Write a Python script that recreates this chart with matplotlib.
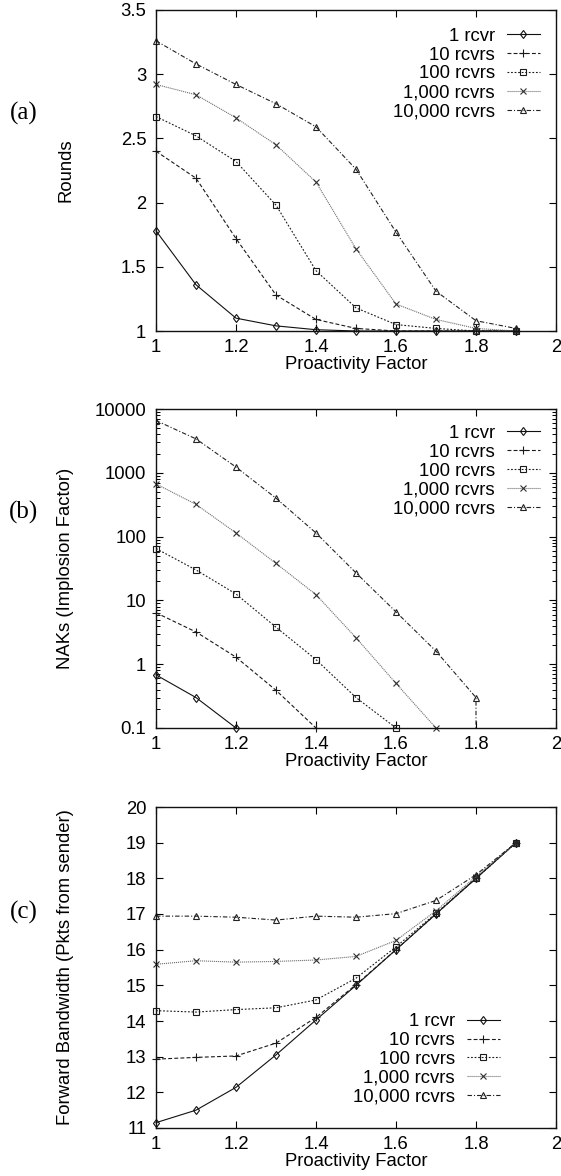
import numpy as np
import matplotlib
matplotlib.use("Agg")
import matplotlib.pyplot as plt
from matplotlib.ticker import FixedLocator, FormatStrFormatter, LogLocator, NullFormatter

# ---------------- data ----------------
proactivity = [1.0, 1.1, 1.2, 1.3, 1.4, 1.5, 1.6, 1.7, 1.8, 1.9]
series_labels = ["1 rcvr", "10 rcvrs", "100 rcvrs", "1,000 rcvrs", "10,000 rcvrs"]

rounds_1 = [1.78, 1.36, 1.10, 1.04, 1.01, 1.00, 1.00, 1.00, 1.00, 1.00]
rounds_10 = [2.40, 2.19, 1.72, 1.28, 1.09, 1.02, 1.00, 1.00, 1.00, 1.00]
rounds_100 = [2.67, 2.52, 2.32, 1.98, 1.47, 1.18, 1.05, 1.02, 1.00, 1.00]
rounds_1000 = [2.92, 2.84, 2.66, 2.45, 2.16, 1.64, 1.21, 1.09, 1.02, 1.00]
rounds_10000 = [3.26, 3.08, 2.92, 2.77, 2.59, 2.26, 1.77, 1.31, 1.08, 1.02]

naks_1 = [0.68, 0.30, 0.10]
naks_10 = [6.4, 3.2, 1.29, 0.39, 0.10]
naks_100 = [65, 30, 12.6, 3.8, 1.18, 0.30, 0.10]
naks_1000 = [670, 320, 114, 38, 12.3, 2.6, 0.50, 0.10]
naks_10000 = [6600, 3400, 1230, 400, 114, 27, 6.6, 1.6, 0.30, 0.0]

fwd_1 = [11.15, 11.50, 12.14, 13.05, 14.03, 15.00, 16.00, 17.00, 18.00, 19.00]
fwd_10 = [12.93, 12.98, 13.02, 13.38, 14.10, 15.02, 16.00, 17.00, 18.00, 19.00]
fwd_100 = [14.29, 14.25, 14.32, 14.37, 14.59, 15.20, 16.08, 17.02, 18.00, 19.00]
fwd_1000 = [15.59, 15.69, 15.65, 15.67, 15.71, 15.81, 16.26, 17.09, 18.05, 19.00]
fwd_10000 = [16.94, 16.94, 16.91, 16.83, 16.94, 16.91, 17.01, 17.38, 18.10, 19.00]

x_ticks = [1.0, 1.2, 1.4, 1.6, 1.8, 2.0]
rounds_ticks = [1.0, 1.5, 2.0, 2.5, 3.0, 3.5]
naks_ticks = [0.1, 1, 10, 100, 1000, 10000]
fwd_ticks = [11, 12, 13, 14, 15, 16, 17, 18, 19, 20]

# ---------------- style ----------------
SANS = ["Liberation Sans", "DejaVu Sans"]
SERIF = ["Liberation Serif", "DejaVu Serif"]
FS = 13.3
plt.rcParams["font.family"] = SANS
plt.rcParams["font.size"] = FS

styles = [
    dict(color="#111111", mec="#111111", ls="-", marker="d", ms=4.5),
    dict(color="#1a1a1a", mec="#1a1a1a", ls=(0, (3.5, 2.0)), marker="+", ms=5.5),
    dict(color="#1a1a1a", mec="#1a1a1a", ls=(0, (1.6, 1.6)), marker="s", ms=5.0),
    dict(color="#707070", mec="#303030", ls=(0, (1.0, 0.8)), marker="x", ms=5.0),
    dict(color="#222222", mec="#222222", ls=(0, (4.0, 1.8, 1.0, 1.8)), marker="^", ms=5.0),
]

fig = plt.figure(figsize=(5.61, 11.76), dpi=100)
W, H = 561.0, 1176.0
LEFT, RIGHT = 156, 556


def make_axes(top, bottom):
    return fig.add_axes([LEFT / W, 1 - bottom / H, (RIGHT - LEFT) / W, (bottom - top) / H])


ax_a = make_axes(10, 331)
ax_b = make_axes(409, 728)
ax_c = make_axes(807, 1128)

LEG_KW = dict(frameon=False, markerfirst=False, borderpad=0, handlelength=1.8,
              handletextpad=0.63, labelspacing=0.1, fontsize=FS, borderaxespad=0)


def style_axes(ax, ylabel, panel_label, label_y):
    ax.set_xlim(1, 2)
    ax.xaxis.set_major_locator(FixedLocator(x_ticks))
    ax.xaxis.set_major_formatter(FormatStrFormatter("%g"))
    ax.tick_params(which="major", direction="in", length=5, width=0.8,
                   top=True, right=True, labelsize=FS)
    ax.tick_params(which="minor", direction="in", length=2.8, width=0.7,
                   top=True, right=True)
    ax.tick_params(axis="x", pad=6)
    ax.tick_params(axis="y", pad=7)
    for s in ax.spines.values():
        s.set_linewidth(1.0)
        s.set_color("#111111")
    ax.set_xlabel("Proactivity Factor", fontsize=FS, labelpad=0)
    ax.set_ylabel(ylabel, fontsize=FS, va="center")
    ax.yaxis.set_label_coords(-0.225, 0.5)
    fig.text(24 / W, 1 - label_y / H, panel_label, family=SERIF, fontsize=18,
             ha="center", va="center")


def draw(ax, ys_list, clips):
    for st, ys, lab, clip in zip(styles, ys_list, series_labels, clips):
        xs = proactivity[:len(ys)]
        ax.plot(xs, ys, color=st["color"], ls=st["ls"], lw=0.8,
                marker=st["marker"], ms=st["ms"], mfc="none",
                mec=st["mec"], mew=0.8, label=lab, clip_on=clip)


# (a)
draw(ax_a, [rounds_1, rounds_10, rounds_100, rounds_1000, rounds_10000], [False] * 5)
ax_a.set_ylim(1, 3.5)
ax_a.yaxis.set_major_locator(FixedLocator(rounds_ticks))
ax_a.yaxis.set_major_formatter(FormatStrFormatter("%g"))
style_axes(ax_a, "Rounds", "(a)", 113)
ax_a.legend(loc="upper right", bbox_to_anchor=(0.96, 0.945), **LEG_KW)

# (b)
ax_b.set_yscale("log")
draw(ax_b, [naks_1, naks_10, naks_100, naks_1000, naks_10000],
     [False, False, False, False, True])
ax_b.set_ylim(0.1, 10000)
ax_b.yaxis.set_major_locator(FixedLocator(naks_ticks))
ax_b.yaxis.set_major_formatter(FormatStrFormatter("%g"))
ax_b.yaxis.set_minor_locator(LogLocator(base=10, subs=np.arange(2, 10)))
ax_b.yaxis.set_minor_formatter(NullFormatter())
style_axes(ax_b, "NAKs (Implosion Factor)", "(b)", 512)
ax_b.legend(loc="upper right", bbox_to_anchor=(0.96, 0.95), **LEG_KW)

# (c)
draw(ax_c, [fwd_1, fwd_10, fwd_100, fwd_1000, fwd_10000], [False] * 5)
ax_c.set_ylim(11, 20)
ax_c.yaxis.set_major_locator(FixedLocator(fwd_ticks))
ax_c.yaxis.set_major_formatter(FormatStrFormatter("%g"))
style_axes(ax_c, "Forward Bandwidth (Pkts from sender)", "(c)", 912)
ax_c.legend(loc="lower right", bbox_to_anchor=(0.86, 0.07), **LEG_KW)

fig.savefig("out.png", dpi=100)
